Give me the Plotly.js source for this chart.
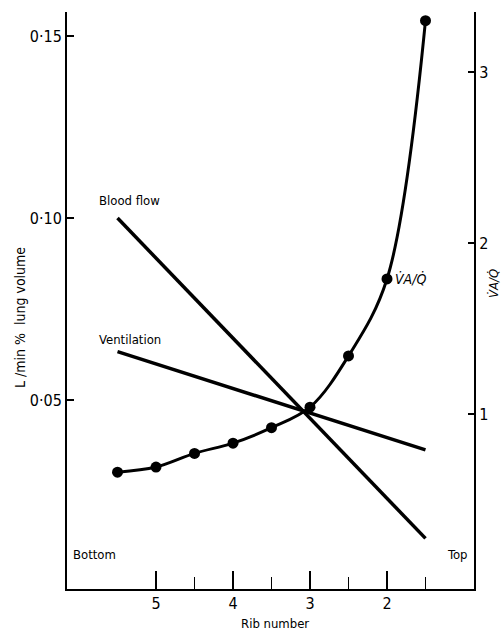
<!DOCTYPE html>
<html>
<head>
<meta charset="utf-8">
<script src="https://cdn.plot.ly/plotly-3.0.1.min.js"></script>
<style>html,body{margin:0;padding:0;background:#fff;}#chart{width:503px;height:633px;}</style>
</head>
<body>
<div id="chart"></div>
<script>
// Data
const ribNumbers = [5.5, 5, 4.5, 4, 3.5, 3, 2.5, 2, 1.5];
const vaqRatio = [0.66, 0.69, 0.77, 0.83, 0.92, 1.04, 1.34, 1.79, 3.30];
const lineRibs = [5.5, 1.5];
const bloodFlow = [0.100, 0.012];
const ventilation = [0.0633, 0.0363];

const xTickVals = [5, 4, 3, 2];
const xTickText = ['5', '4', '3', '2'];
const xMinorVals = [4.5, 3.5, 2.5, 1.5];
const leftTickVals = [0.05, 0.10, 0.15];
const leftTickText = ['0·05', '0·10', '0·15'];
const rightTickVals = [1, 2, 3];
const rightTickText = ['1', '2', '3'];

const FONT = '"Liberation Sans Narrow", "DejaVu Sans Condensed", "Liberation Sans", Arial, sans-serif';

// plot-area geometry (pixels)
const L = 67, R = 474, T = 12, B = 589, W = 503, H = 633;
const px = x => (x - L) / (R - L);
const py = y => (B - y) / (B - T);

const traces = [
  {x: lineRibs, y: bloodFlow, type: 'scatter', mode: 'lines',
   line: {color: '#000', width: 3.5}, hoverinfo: 'skip'},
  {x: lineRibs, y: ventilation, type: 'scatter', mode: 'lines',
   line: {color: '#000', width: 3.5}, hoverinfo: 'skip'},
  {x: ribNumbers, y: vaqRatio, type: 'scatter', mode: 'lines+markers', yaxis: 'y2',
   line: {color: '#000', width: 3, shape: 'spline', smoothing: 1},
   marker: {color: '#000', size: 11}, cliponaxis: false, hoverinfo: 'skip'}
];

const layout = {
  width: W, height: H,
  margin: {l: L, r: W - R, t: T, b: H - B, pad: 0},
  paper_bgcolor: '#fff', plot_bgcolor: '#fff',
  showlegend: false,
  font: {family: FONT, color: '#000', size: 16},
  xaxis: {
    range: [6.156, 0.870], showgrid: false, zeroline: false,
    showline: true, linecolor: '#000', linewidth: 2,
    tickvals: xTickVals, ticktext: xTickText,
    ticks: 'inside', ticklen: 18, tickwidth: 1.5, tickcolor: '#000',
    tickfont: {family: FONT, size: 16}, ticklabelstandoff: -1,
    minor: {tickvals: xMinorVals, ticks: 'inside', ticklen: 12, tickwidth: 1.2, tickcolor: '#000'}
  },
  yaxis: {
    range: [-0.0019, 0.1566], showgrid: false, zeroline: false,
    showline: true, linecolor: '#000', linewidth: 2,
    tickvals: leftTickVals, ticktext: leftTickText,
    ticks: 'inside', ticklen: 7, tickwidth: 2, tickcolor: '#000',
    tickfont: {family: FONT, size: 16}
  },
  yaxis2: {
    overlaying: 'y', side: 'right',
    range: [-0.023, 3.351], showgrid: false, zeroline: false,
    showline: true, linecolor: '#000', linewidth: 2,
    tickvals: rightTickVals, ticktext: rightTickText,
    ticks: 'inside', ticklen: 6, tickwidth: 2, tickcolor: '#000',
    tickfont: {family: FONT, size: 16}
  },
  annotations: [
    {text: 'Blood flow', xref: 'paper', yref: 'paper', x: px(97), y: py(200), xanchor: 'left', yanchor: 'middle', showarrow: false, font: {family: FONT, size: 13}},
    {text: 'Ventilation', xref: 'paper', yref: 'paper', x: px(97), y: py(339), xanchor: 'left', yanchor: 'middle', showarrow: false, font: {family: FONT, size: 13}},
    {text: '<i>V̇A/Q̇</i>', xref: 'paper', yref: 'paper', x: px(393), y: py(279), xanchor: 'left', yanchor: 'middle', showarrow: false, font: {family: FONT, size: 14}},
    {text: 'Bottom', xref: 'paper', yref: 'paper', x: px(71), y: py(554), xanchor: 'left', yanchor: 'middle', showarrow: false, font: {family: FONT, size: 13}},
    {text: 'Top', xref: 'paper', yref: 'paper', x: px(470), y: py(554), xanchor: 'right', yanchor: 'middle', showarrow: false, font: {family: FONT, size: 13}},
    {text: 'Rib number', xref: 'paper', yref: 'paper', x: px(275), y: py(623), xanchor: 'center', yanchor: 'middle', showarrow: false, font: {family: FONT, size: 13}},
    {text: 'L /min %  lung volume', xref: 'paper', yref: 'paper', x: px(20), y: py(318), xanchor: 'center', yanchor: 'middle', textangle: -90, showarrow: false, font: {family: FONT, size: 14}},
    {text: '<i>V̇A/Q̇</i>', xref: 'paper', yref: 'paper', x: px(493), y: py(284), xanchor: 'center', yanchor: 'middle', textangle: -90, showarrow: false, font: {family: FONT, size: 13}}
  ]
};

Plotly.newPlot('chart', traces, layout, {staticPlot: true, displayModeBar: false});
</script>
</body>
</html>
